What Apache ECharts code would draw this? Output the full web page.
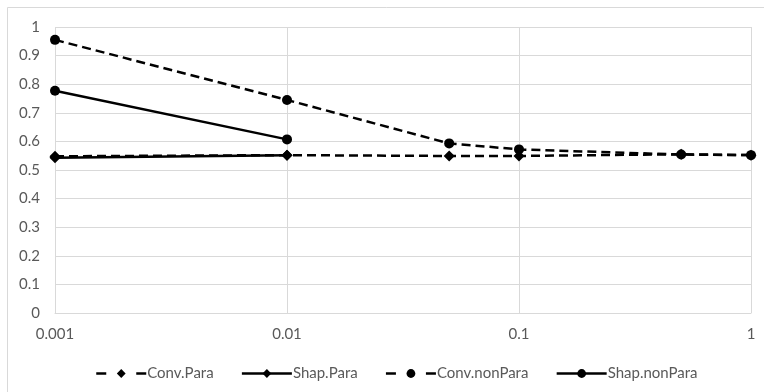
<!DOCTYPE html>
<html>
<head>
<meta charset="utf-8">
<script src="https://cdn.jsdelivr.net/npm/echarts@6/dist/echarts.min.js"></script>
<style>
  html, body { margin: 0; padding: 0; background: #fff; }
  #chart { width: 764px; height: 392px; }
</style>
</head>
<body>
<div id="chart"></div>
<script>
// Step sizes (log scale) and accuracy per method
const steps = [0.001, 0.01, 0.05, 0.1, 0.5, 1];
const shortSteps = [0.001, 0.01];

const convPara = [0.548, 0.552, 0.549, 0.549, 0.555, 0.552];
const shapPara = [0.543, 0.552];
const convNonPara = [0.955, 0.745, 0.593, 0.572, 0.554, 0.552];
const shapNonPara = [0.777, 0.607];

const seriesNames = ['Conv.Para', 'Shap.Para', 'Conv.nonPara', 'Shap.nonPara'];

const yTicks = { min: 0, max: 1, interval: 0.1 };
const xRange = { min: 0.001, max: 1 };

const INK = '#000000';
const GRID = '#d9d9d9';
const TEXT = '#595959';
const FONT = 'Lato';
const DASH = [9, 5];

function pairs(xs, ys) {
  return ys.map((y, i) => [xs[i], y]);
}

function lineSeries(name, xs, ys, dashed, symbol) {
  return {
    name: name,
    type: 'line',
    data: pairs(xs, ys),
    symbol: symbol,
    symbolSize: symbol === 'circle' ? 10 : 11,
    showAllSymbol: true,
    lineStyle: { color: INK, width: 2.5, type: dashed ? DASH : 'solid' },
    itemStyle: { color: INK, borderWidth: 0 },
    animation: false
  };
}

// Legend keys: dashed series show a short dash on each side of the marker
function legendEntry(name, dashed) {
  return {
    name: name,
    lineStyle: { color: INK, width: 2.5, type: dashed ? [10, 30] : 'solid' }
  };
}

const chart = echarts.init(document.getElementById('chart'), null, { renderer: 'canvas' });

chart.setOption({
  backgroundColor: '#ffffff',
  animation: false,
  textStyle: { fontFamily: FONT },
  graphic: [{
    type: 'rect',
    shape: { x: 7.5, y: 7.5, width: 800, height: 420 },
    style: { fill: 'none', stroke: GRID, lineWidth: 1 },
    silent: true
  }],
  grid: { left: 55, right: 13, top: 27, bottom: 79 },
  xAxis: {
    type: 'log',
    logBase: 10,
    min: xRange.min,
    max: xRange.max,
    axisLine: { show: true, lineStyle: { color: GRID, width: 1 } },
    axisTick: { show: false },
    splitLine: { show: true, lineStyle: { color: GRID, width: 1 } },
    axisLabel: {
      color: TEXT, fontSize: 15, fontFamily: FONT, margin: 14,
      formatter: v => String(+v.toPrecision(3))
    }
  },
  yAxis: {
    type: 'value',
    min: yTicks.min,
    max: yTicks.max,
    interval: yTicks.interval,
    axisLine: { show: false },
    axisTick: { show: false },
    splitLine: { show: true, lineStyle: { color: GRID, width: 1 } },
    axisLabel: {
      color: TEXT, fontSize: 15, fontFamily: FONT, margin: 15,
      formatter: v => String(+v.toFixed(1))
    }
  },
  legend: {
    top: 361,
    left: 90,
    itemWidth: 50,
    itemHeight: 11,
    itemGap: 27,
    textStyle: { color: TEXT, fontSize: 15, fontFamily: FONT, padding: [0, 0, 0, -4] },
    data: [
      legendEntry(seriesNames[0], true),
      legendEntry(seriesNames[1], false),
      legendEntry(seriesNames[2], true),
      legendEntry(seriesNames[3], false)
    ]
  },
  series: [
    lineSeries(seriesNames[0], steps, convPara, true, 'diamond'),
    lineSeries(seriesNames[1], shortSteps, shapPara, false, 'diamond'),
    lineSeries(seriesNames[2], steps, convNonPara, true, 'circle'),
    lineSeries(seriesNames[3], shortSteps, shapNonPara, false, 'circle')
  ]
});
</script>
</body>
</html>
